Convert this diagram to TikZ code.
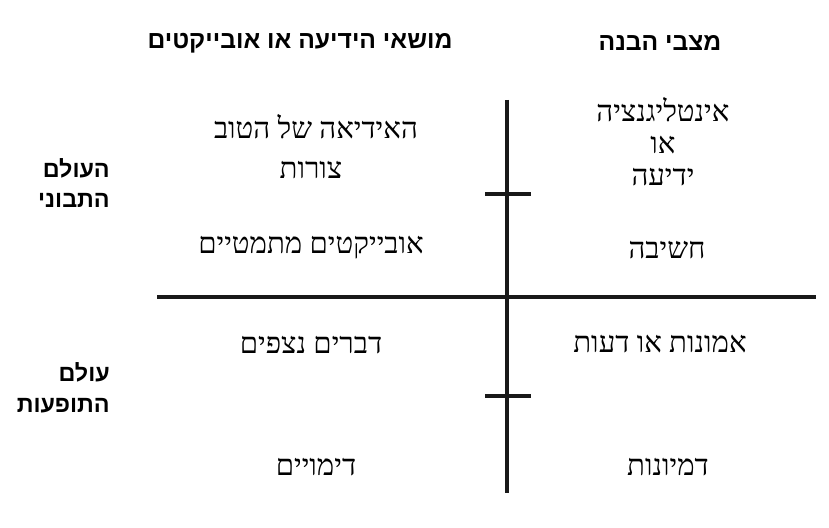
\documentclass[tikz,border=0pt]{standalone}
\usepackage{fontspec}
\usepackage{tikz}
\usetikzlibrary{positioning}
\newfontfamily\hebserif[Script=Hebrew]{Liberation Serif}
\newfontfamily\hebsans[Script=Hebrew]{Liberation Sans}
\TeXXeTstate=1
\newcommand{\rtl}[1]{\beginR #1\endR}

\begin{document}
\begin{tikzpicture}[x=0.75pt,y=-0.75pt,
    cell/.style={font=\hebserif\fontsize{22}{24}\selectfont,align=center,inner sep=0pt},
    head/.style={font=\hebsans\bfseries\fontsize{18.5}{22}\selectfont,align=center,inner sep=0pt},
    side/.style={font=\hebsans\bfseries\fontsize{17.5}{23}\selectfont,align=right,inner sep=0pt,anchor=east},
    rule/.style={line width=3pt,black!90}]
    \useasboundingbox (0,0) rectangle (829,528);
    % column heads
    \node[head] (hdobj) at (300,43) {\rtl{מושאי הידיעה או אובייקטים}};
    \node[head] (hdstate) at (660,43) {\rtl{מצבי הבנה}};
    % row heads
    \node[side] (intelworld) at (110,183) {\rtl{העולם}\\\rtl{התבוני}};
    \node[side] (visworld) at (110,388) {\rtl{עולם}\\\rtl{התופעות}};
    % grid
    \coordinate (vtop) at (507,100);
    \coordinate (vbot) at (507,493);
    \coordinate (hleft) at (157,297);
    \coordinate (hright) at (816,297);
    \draw[rule] (vtop) -- (vbot);
    \draw[rule] (hleft) -- (hright);
    \draw[rule] (485,194) -- (531,194);
    \draw[rule] (485,396) -- (531,396);
    % objects
    \node[cell] (good) at (316,127) {\rtl{האידיאה של הטוב}};
    \node[cell] (forms) at (311,170) {\rtl{צורות}};
    \node[cell] (math) at (311,248) {\rtl{אובייקטים מתמטיים}};
    \node[cell] (seen) at (311,345) {\rtl{דברים נצפים}};
    \node[cell] (images) at (316,467) {\rtl{דימויים}};
    % states
    \node[cell] (intel) at (663,142) {\rtl{אינטליגנציה}\\\rtl{או}\\\rtl{ידיעה}};
    \node[cell] (thought) at (667,250) {\rtl{חשיבה}};
    \node[cell] (belief) at (660,344) {\rtl{אמונות או דעות}};
    \node[cell] (imagin) at (668,467) {\rtl{דמיונות}};
\end{tikzpicture}
\end{document}
